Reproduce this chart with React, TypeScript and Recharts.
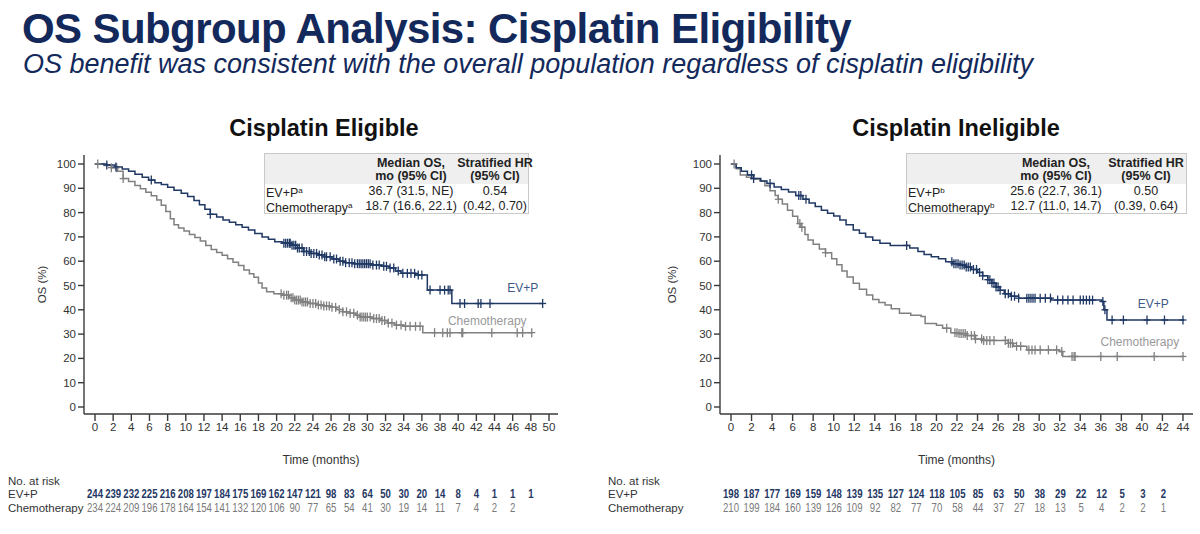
import React from "react";
import {
  ComposedChart,
  Line,
  Scatter,
  ScatterChart,
  XAxis,
  YAxis,
  ReferenceDot,
} from "recharts";

const NAVY = "#1f3864";
const GREY = "#808080";
const FONT = "'Liberation Sans', Arial, sans-serif";

// ---- Cisplatin eligible ----
const eligEvp = [
  [0, 100], [1.3, 99.6], [2.2, 98.8], [3, 97.9], [3.7, 97], [4.4, 95.8], [5.2, 94.5], [5.9, 93.4],
  [6.6, 92.3], [7.3, 91.6], [8, 90.4], [8.7, 89.2], [9.5, 88], [10.2, 86.6], [10.9, 85], [11.5, 83.2],
  [12.1, 81.4], [12.7, 79.3], [13.4, 78.2], [14.1, 77], [14.8, 76], [15.5, 75], [16.2, 74], [16.9, 72.8],
  [17.6, 71.4], [18.4, 70], [19.1, 69], [19.8, 68], [20.6, 67.4], [21.6, 66.6], [22.3, 65.4], [23, 64],
  [23.7, 63.2], [24.5, 62.6], [25.3, 61.8], [26.1, 60.9], [26.9, 60], [27.6, 59.4], [28.4, 59],
  [30.4, 58.4], [31.6, 57.9], [32.4, 57.2], [33.1, 56], [33.7, 55], [35.3, 54.3], [36.6, 48.1],
  [39.3, 42.6], [49.3, 42.6],
];
const eligEvpCensor = [
  1.3, 2.3, 6.2, 12.7, 20.8, 21.0, 21.2, 21.4, 21.5, 21.7, 21.9, 22.1, 22.3, 22.5, 22.8, 23.0, 23.3,
  23.6, 23.8, 24.1, 24.4, 24.7, 25.0, 25.3, 25.5, 25.9, 26.3, 26.6, 27.0, 27.3, 27.6, 28.0, 28.3, 28.6,
  28.9, 29.1, 29.3, 29.5, 29.7, 29.9, 30.1, 30.3, 30.6, 31.0, 31.3, 31.8, 32.1, 32.5, 32.9, 33.4, 33.9,
  34.4, 34.8, 35.2, 35.6, 36.0, 36.9, 38.0, 38.5, 38.9, 39.1, 40.2, 40.7, 42.2, 42.5, 43.5, 49.3,
];
const eligChemo = [
  [0, 100], [1, 99.4], [1.8, 98.5], [2.5, 97], [3.1, 94], [3.7, 92.8], [4.4, 91.2], [5, 89.8],
  [5.6, 88.4], [6.2, 86.9], [6.8, 85.2], [7.3, 83], [7.8, 80.5], [8.3, 77.5], [8.7, 75], [9.2, 73.7],
  [9.8, 72.4], [10.4, 71], [11, 69.8], [11.6, 68.3], [12.2, 66.5], [12.8, 64.8], [13.4, 63.6],
  [14, 62.4], [14.6, 61], [15.2, 59.6], [15.8, 58.2], [16.4, 56.4], [17, 54.8], [17.5, 53.4],
  [18, 51], [18.4, 49], [18.9, 47.4], [19.7, 46.6], [20.6, 46], [21.4, 45], [22, 44], [22.8, 43.2],
  [23.5, 42.6], [24.4, 42], [25.2, 41.6], [25.9, 41], [26.6, 40.1], [27.3, 39.2], [28, 38.6],
  [28.7, 37.8], [29.2, 37], [30.5, 36.4], [31.5, 35.6], [32.2, 34.6], [33, 33.7], [34, 33.2],
  [36.1, 30.6], [48.1, 30.6],
];
const eligChemoCensor = [
  0.3, 1.8, 2.4, 3.1, 20.5, 20.8, 21.1, 21.3, 21.6, 21.8, 22.0, 22.2, 22.4, 22.6, 22.8, 23.0, 23.2,
  23.4, 23.7, 24.0, 24.3, 24.6, 24.9, 25.2, 25.5, 25.8, 26.1, 26.5, 26.9, 27.3, 27.7, 28.1, 28.5, 28.9,
  29.2, 29.4, 29.6, 29.8, 30.0, 30.3, 30.7, 31.0, 31.3, 31.6, 31.9, 32.3, 32.7, 33.2, 33.7, 34.2, 34.7,
  35.3, 35.8, 37.4, 38.3, 38.8, 39.1, 40.4, 40.5, 43.7, 46.5, 47.1, 48.1,
];
const eligTicks = [0, 2, 4, 6, 8, 10, 12, 14, 16, 18, 20, 22, 24, 26, 28, 30, 32, 34, 36, 38, 40, 42, 44, 46, 48, 50];
const eligRiskTimes = [0, 2, 4, 6, 8, 10, 12, 14, 16, 18, 20, 22, 24, 26, 28, 30, 32, 34, 36, 38, 40, 42, 44, 46, 48];
const eligRiskEvp = [244, 239, 232, 225, 216, 208, 197, 184, 175, 169, 162, 147, 121, 98, 83, 64, 50, 30, 20, 14, 8, 4, 1, 1, 1];
const eligRiskChemo = [234, 224, 209, 196, 178, 164, 154, 141, 132, 120, 106, 90, 77, 65, 54, 41, 30, 19, 14, 11, 7, 4, 2, 2];

// ---- Cisplatin ineligible ----
const inelEvp = [
  [0, 100], [0.5, 98.5], [1, 97], [1.6, 95.5], [2.2, 94], [2.9, 93], [3.5, 92], [4.2, 90.5],
  [4.9, 89.5], [5.6, 88.5], [6.3, 87], [7, 85.5], [7.6, 84], [8.2, 82.5], [8.8, 81], [9.4, 79.7],
  [10, 78.6], [10.6, 77], [11.2, 75], [11.9, 72.8], [12.5, 71.5], [13.1, 70], [13.8, 68.6],
  [14.5, 67.4], [15.5, 66.5], [17.4, 65.4], [18.2, 64], [18.8, 62.8], [19.5, 61.8], [20.2, 61],
  [20.9, 59.8], [21.6, 59], [22.2, 58.4], [22.8, 57.6], [23.4, 56.6], [24, 55.4], [24.5, 54],
  [25, 52.4], [25.4, 51], [25.8, 49.4], [26.2, 48], [26.6, 46.6], [27.2, 45.6], [28, 44.8],
  [31.2, 44], [36.1, 43.4], [36.3, 40], [36.6, 35.8], [44.1, 35.8],
];
const inelEvpCensor = [
  2.0, 2.2, 3.8, 6.6, 6.8, 7.3, 17.1, 21.5, 21.7, 21.9, 22.1, 22.3, 22.5, 22.7, 22.9, 23.1, 23.3, 23.6,
  23.9, 24.2, 24.5, 25.0, 25.2, 25.4, 25.6, 25.8, 26.0, 26.2, 26.7, 27.0, 27.3, 27.6, 28.0, 28.8, 29.0,
  29.2, 29.4, 29.6, 30.1, 30.6, 31.1, 31.8, 32.3, 32.8, 33.3, 34.0, 34.3, 34.6, 34.9, 35.2, 36.2, 36.4,
  37.1, 38.2, 40.5, 42.2, 44.0,
];
const inelChemo = [
  [0, 100], [0.5, 98], [0.9, 95.5], [1.5, 94.5], [2.2, 93.8], [2.8, 93], [3.3, 91], [3.8, 89],
  [4.3, 87], [4.6, 85.5], [5, 83.5], [5.5, 81], [6, 78.5], [6.5, 75.5], [6.8, 74], [7.2, 71],
  [7.5, 68.7], [8, 67], [8.6, 65], [9.2, 63.5], [9.8, 61], [10.3, 58.5], [10.8, 56], [11.3, 53.5],
  [11.9, 50.9], [12.5, 48.5], [13.2, 46.1], [13.8, 44.2], [14.4, 43], [15, 42], [15.6, 40.4],
  [16.4, 38.6], [17.5, 37.8], [18.5, 37.2], [18.9, 34.4], [20, 33.6], [20.6, 32.4], [21.4, 30.6],
  [22.2, 30.2], [23, 29.4], [23.8, 28], [24.5, 27.4], [27, 26.2], [27.5, 25], [28.8, 23.5],
  [32, 22.8], [32.3, 20.8], [44.1, 20.8],
];
const inelChemoCensor = [
  0.3, 4.6, 6.7, 6.9, 9.2, 21.0, 21.8, 22.0, 22.2, 22.4, 22.6, 22.8, 23.0, 23.4, 23.7, 23.8, 24.4, 24.6,
  24.9, 25.2, 25.6, 26.7, 27.0, 27.2, 27.4, 27.8, 28.2, 29.0, 29.3, 29.6, 30.1, 30.9, 31.7, 32.2, 33.2,
  33.4, 33.5, 36.0, 37.6, 41.2, 44.0,
];
const inelTicks = [0, 2, 4, 6, 8, 10, 12, 14, 16, 18, 20, 22, 24, 26, 28, 30, 32, 34, 36, 38, 40, 42, 44];
const inelRiskTimes = [0, 2, 4, 6, 8, 10, 12, 14, 16, 18, 20, 22, 24, 26, 28, 30, 32, 34, 36, 38, 40, 42];
const inelRiskEvp = [198, 187, 177, 169, 159, 148, 139, 135, 127, 124, 118, 105, 85, 63, 50, 38, 29, 22, 12, 5, 3, 2];
const inelRiskChemo = [210, 199, 184, 160, 139, 126, 109, 92, 82, 77, 70, 58, 44, 37, 27, 18, 13, 5, 4, 2, 2, 1];

const yTicks = [0, 10, 20, 30, 40, 50, 60, 70, 80, 90, 100];

type Pt = { t: number; v: number };

const toPts = (arr: number[][]): Pt[] => arr.map(([t, v]) => ({ t, v }));

// KM survival at time t (value of the step in force)
function survAt(curve: number[][], t: number): number {
  let v = curve[0][1];
  for (const [ct, cv] of curve) {
    if (ct <= t) v = cv;
    else break;
  }
  return v;
}

const censorPts = (curve: number[][], times: number[]): Pt[] =>
  times.map((t) => ({ t, v: survAt(curve, t) }));

function Plus(props: any) {
  const { cx, cy, fill } = props;
  if (cx == null || cy == null) return null;
  return (
    <g stroke={fill} strokeWidth={1.3}>
      <line x1={cx} y1={cy - 4.5} x2={cx} y2={cy + 4.5} />
      <line x1={cx - 3.5} y1={cy} x2={cx + 3.5} y2={cy} />
    </g>
  );
}

// at-risk counts, squeezed horizontally so three digits fit one 2-month slot
function RiskText(props: any) {
  const { cx, cy, payload, fill } = props;
  if (cx == null || cy == null) return null;
  return (
    <text
      transform={`translate(${cx},${cy}) scale(0.8,1)`}
      textAnchor="middle"
      dominantBaseline="central"
      fontSize={12}
      fontWeight={payload.bold ? 700 : 400}
      fill={fill}
    >
      {payload.n}
    </text>
  );
}

type PanelProps = {
  left: number;
  title: string;
  titleCenter: number;
  sup: string;
  evp: number[][];
  evpCensor: number[];
  chemo: number[][];
  chemoCensor: number[];
  maxT: number;
  ticks: number[];
  riskTimes: number[];
  riskEvp: number[];
  riskChemo: number[];
  yAxisW: number;
  rightM: number;
  median: string[];
  hr: string[];
  boxLeft: number;
  boxW: number;
  col2: number;
  col3: number;
  evpLabel: [number, number];
  chemoLabel: [number, number];
  labelX: number;
};

function Panel(p: PanelProps) {
  const axisStroke = "#3a3a3a";
  const tickStyle = { fontSize: 11.5, fill: "#333", fontFamily: FONT };
  const evpRisk = p.riskTimes.map((t, i) => ({ t, row: 0, n: p.riskEvp[i], bold: true })).filter((d) => d.n != null);
  const chemoRisk = p.riskTimes.map((t, i) => ({ t, row: 1, n: p.riskChemo[i] })).filter((d) => d.n != null);
  const xPad = { left: 11, right: 9 };

  return (
    <div style={{ position: "absolute", left: p.left, top: 0, width: 600, height: 534 }}>
      <div
        style={{
          position: "absolute",
          left: p.titleCenter - 200,
          width: 400,
          top: 115,
          textAlign: "center",
          fontWeight: 700,
          fontSize: 23.5,
          color: "#111",
        }}
      >
        {p.title}
      </div>

      <ComposedChart
        width={600}
        height={470}
        margin={{ top: 155, right: p.rightM, bottom: 6, left: 0 }}
        style={{ position: "absolute", left: 0, top: 0, fontFamily: FONT }}
      >
        <XAxis
          dataKey="t"
          type="number"
          domain={[0, p.maxT]}
          ticks={p.ticks}
          interval={0}
          padding={xPad}
          tickSize={7}
          height={50}
          stroke={axisStroke}
          strokeWidth={1.4}
          tick={tickStyle}
          allowDuplicatedCategory={false}
          label={{ value: "Time (months)", position: "insideBottom", offset: 0, style: { fontSize: 12, fill: "#333" } }}
        />
        <YAxis
          type="number"
          domain={[0, 100]}
          ticks={yTicks}
          interval={0}
          padding={{ top: 9, bottom: 7 }}
          width={p.yAxisW}
          tickSize={6}
          stroke={axisStroke}
          strokeWidth={1.4}
          tick={tickStyle}
          label={{ value: "OS (%)", angle: -90, position: "center", dx: p.labelX, style: { fontSize: 11.5, fill: "#333" } }}
        />
        <Line
          data={toPts(p.chemo)}
          dataKey="v"
          type="stepAfter"
          stroke={GREY}
          strokeWidth={1.5}
          dot={false}
          activeDot={false}
          isAnimationActive={false}
        />
        <Line
          data={toPts(p.evp)}
          dataKey="v"
          type="stepAfter"
          stroke={NAVY}
          strokeWidth={1.5}
          dot={false}
          activeDot={false}
          isAnimationActive={false}
        />
        <Scatter data={censorPts(p.chemo, p.chemoCensor)} dataKey="v" fill={GREY} shape={<Plus />} isAnimationActive={false} />
        <Scatter data={censorPts(p.evp, p.evpCensor)} dataKey="v" fill={NAVY} shape={<Plus />} isAnimationActive={false} />
        <ReferenceDot
          x={p.evpLabel[0]}
          y={p.evpLabel[1]}
          r={0}
          label={{ value: "EV+P", fill: "#3d5a8a", fontSize: 12, position: "center" }}
        />
        <ReferenceDot
          x={p.chemoLabel[0]}
          y={p.chemoLabel[1]}
          r={0}
          label={{ value: "Chemotherapy", fill: "#9a9a9a", fontSize: 12, position: "center" }}
        />
      </ComposedChart>

      {/* summary box */}
      <div
        style={{
          position: "absolute",
          left: p.boxLeft,
          top: 153,
          width: p.boxW,
          height: 61,
          border: "1px solid #c9c9c9",
          boxSizing: "border-box",
          fontSize: 12.5,
          color: "#222",
          lineHeight: "13px",
        }}
      >
        <div style={{ background: "#efefef", height: 30, position: "relative", fontWeight: 700 }}>
          <div style={{ position: "absolute", left: p.col2 - 60, width: 120, top: 3, textAlign: "center" }}>
            Median OS,
            <br />
            mo (95% CI)
          </div>
          <div style={{ position: "absolute", left: p.col3 - 50, width: 100, top: 3, textAlign: "center" }}>
            Stratified HR
            <br />
            (95% CI)
          </div>
        </div>
        {[0, 1].map((r) => (
          <div key={r} style={{ position: "relative", height: 14.5, lineHeight: "14.5px" }}>
            <span style={{ position: "absolute", left: 1 }}>
              {r === 0 ? "EV+P" : "Chemotherapy"}
              <sup style={{ fontSize: 8, verticalAlign: "4px" }}>{p.sup}</sup>
            </span>
            <span style={{ position: "absolute", left: p.col2 - 60, width: 120, textAlign: "center" }}>{p.median[r]}</span>
            <span style={{ position: "absolute", left: p.col3 - 50, width: 100, textAlign: "center" }}>{p.hr[r]}</span>
          </div>
        ))}
      </div>

      {/* number at risk */}
      <div style={{ position: "absolute", left: 8, top: 475, fontSize: 11.5, color: "#333", lineHeight: "13.3px" }}>
        <div>No. at risk</div>
        <div>EV+P</div>
        <div>Chemotherapy</div>
      </div>
      <ScatterChart
        width={600}
        height={28}
        margin={{ top: 0, right: p.rightM, bottom: 0, left: p.yAxisW }}
        style={{ position: "absolute", left: 0, top: 487, fontFamily: FONT }}
      >
        <XAxis dataKey="t" type="number" domain={[0, p.maxT]} padding={xPad} hide />
        <YAxis dataKey="row" type="number" domain={[-0.5, 1.5]} reversed hide />
        <Scatter data={evpRisk} fill={NAVY} shape={<RiskText />} isAnimationActive={false} />
        <Scatter data={chemoRisk} fill="#7a7a7a" shape={<RiskText />} isAnimationActive={false} />
      </ScatterChart>
    </div>
  );
}

export default function App() {
  return (
    <div style={{ position: "relative", width: 1200, height: 534, background: "#fff", fontFamily: FONT, overflow: "hidden" }}>
      <style>{"body{margin:0}"}</style>
      <div style={{ position: "absolute", left: 22, top: 9, fontSize: 42, lineHeight: "40px", fontWeight: 700, color: "#13295b", letterSpacing: -0.6, whiteSpace: "nowrap" }}>
        OS Subgroup Analysis: Cisplatin Eligibility
      </div>
      <div style={{ position: "absolute", left: 23, top: 51, fontSize: 27, lineHeight: "27px", fontStyle: "italic", color: "#13295b", whiteSpace: "nowrap" }}>
        OS benefit was consistent with the overall population regardless of cisplatin eligibility
      </div>

      <Panel
        left={0}
        title="Cisplatin Eligible"
        titleCenter={324}
        sup="a"
        evp={eligEvp}
        evpCensor={eligEvpCensor}
        chemo={eligChemo}
        chemoCensor={eligChemoCensor}
        maxT={50}
        ticks={eligTicks}
        riskTimes={eligRiskTimes}
        riskEvp={eligRiskEvp}
        riskChemo={eligRiskChemo}
        yAxisW={84}
        rightM={42}
        median={["36.7 (31.5, NE)", "18.7 (16.6, 22.1)"]}
        hr={["0.54", "(0.42, 0.70)"]}
        boxLeft={264}
        boxW={265}
        col2={146}
        col3={230}
        evpLabel={[47.1, 49]}
        chemoLabel={[43.2, 35.6]}
        labelX={0}
      />
      <Panel
        left={600}
        title="Cisplatin Ineligible"
        titleCenter={356}
        sup="b"
        evp={inelEvp}
        evpCensor={inelEvpCensor}
        chemo={inelChemo}
        chemoCensor={inelChemoCensor}
        maxT={44}
        ticks={inelTicks}
        riskTimes={inelRiskTimes}
        riskEvp={inelRiskEvp}
        riskChemo={inelRiskChemo}
        yAxisW={120}
        rightM={7}
        median={["25.6 (22.7, 36.1)", "12.7 (11.0, 14.7)"]}
        hr={["0.50", "(0.39, 0.64)"]}
        boxLeft={306}
        boxW={281}
        col2={149}
        col3={239}
        evpLabel={[41.1, 42.4]}
        chemoLabel={[39.8, 26.7]}
        labelX={12}
      />
    </div>
  );
}
